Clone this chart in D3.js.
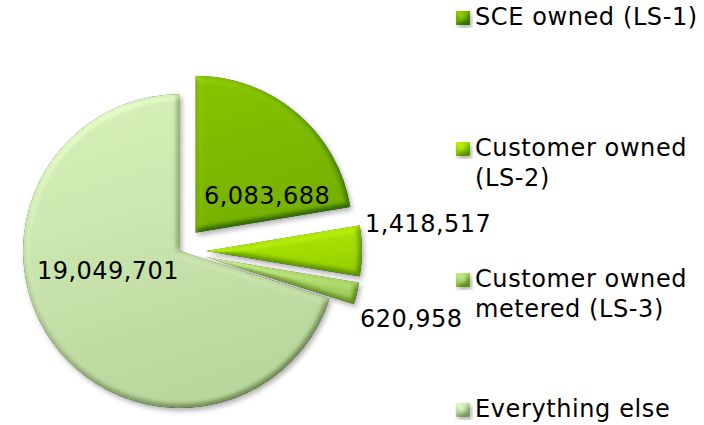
<!DOCTYPE html>
<html>
<head>
<meta charset="utf-8">
<script src="https://cdn.jsdelivr.net/npm/d3@7"></script>
<style>
  body { margin: 0; background: #fff; }
  text { font-family: "DejaVu Sans", Verdana, sans-serif; fill: #000; }
</style>
</head>
<body>
<div id="chart"></div>
<script>
// data
var categories = ["SCE owned (LS-1)", "Customer owned (LS-2)", "Customer owned metered (LS-3)", "Everything else"];
var values = [6083688, 1418517, 620958, 19049701];
var legendLines = [["SCE owned (LS-1)"], ["Customer owned", "(LS-2)"], ["Customer owned", "metered (LS-3)"], ["Everything else"]];

// styles / layout
var colorsTop = ["#86c400", "#b2ea00", "#bde37f", "#d9f2bb"];
var colorsBot = ["#76b000", "#98d200", "#a2cf5e", "#bad79e"];
var explode = [24, 25, 25, 0];
var labelPos = [[204, 204], [365, 232], [360, 327], [37, 279]];
var legendY = [25, 156, 287, 417];

var width = 704, height = 425;
var cx = 180, cy = 251, radius = 157;

var svg = d3.select("#chart")
  .append("svg")
    .attr("width", width)
    .attr("height", height);

var defs = svg.append("defs");

// gradients for each slice
categories.forEach(function(c, i) {
  var g = defs.append("linearGradient")
    .attr("id", "grad" + i)
    .attr("x1", 0).attr("y1", 0).attr("x2", 0.3).attr("y2", 1);
  g.append("stop").attr("offset", "0%").attr("stop-color", colorsTop[i]);
  g.append("stop").attr("offset", "100%").attr("stop-color", colorsBot[i]);
});

// soft bevel + drop shadow
var f = defs.append("filter")
  .attr("id", "bevel")
  .attr("x", "-15%").attr("y", "-15%")
  .attr("width", "130%").attr("height", "130%")
  .attr("color-interpolation-filters", "sRGB");
f.append("feGaussianBlur").attr("in", "SourceAlpha").attr("stdDeviation", 3).attr("result", "blur");
var light = f.append("feDiffuseLighting")
  .attr("in", "blur").attr("surfaceScale", 5)
  .attr("diffuseConstant", 0.577).attr("lighting-color", "#fff")
  .attr("result", "diff");
light.append("feDistantLight").attr("azimuth", 235).attr("elevation", 60);
f.append("feComposite")
  .attr("in", "SourceGraphic").attr("in2", "diff")
  .attr("operator", "arithmetic")
  .attr("k1", 0).attr("k2", 1).attr("k3", 0.7).attr("k4", -0.35)
  .attr("result", "lit");
f.append("feComposite").attr("in", "lit").attr("in2", "SourceAlpha").attr("operator", "in").attr("result", "litIn");
f.append("feGaussianBlur").attr("in", "SourceAlpha").attr("stdDeviation", 2.5).attr("result", "sblur");
f.append("feOffset").attr("in", "sblur").attr("dx", 2).attr("dy", 3).attr("result", "soff");
f.append("feFlood").attr("flood-color", "#000").attr("flood-opacity", 0.3).attr("result", "sc");
f.append("feComposite").attr("in", "sc").attr("in2", "soff").attr("operator", "in").attr("result", "shadow");
var m = f.append("feMerge");
m.append("feMergeNode").attr("in", "shadow");
m.append("feMergeNode").attr("in", "litIn");

var data = values.map(function(v, i) { return {name: categories[i], value: v, i: i}; });

var pie = d3.pie()
  .sort(null)
  .value(function(d) { return d.value; });

var arc = d3.arc()
  .innerRadius(0)
  .outerRadius(radius);

var arcs = pie(data);

var g = svg.append("g")
  .attr("transform", "translate(" + cx + "," + cy + ")");

g.selectAll("path.slice")
  .data(arcs)
  .enter()
  .append("path")
    .attr("class", "slice")
    .attr("d", arc)
    .attr("fill", function(d) { return "url(#grad" + d.data.i + ")"; })
    .attr("filter", "url(#bevel)")
    .attr("transform", function(d) {
      var a = (d.startAngle + d.endAngle) / 2;
      var e = explode[d.data.i];
      return "translate(" + (Math.sin(a) * e) + "," + (-Math.cos(a) * e) + ")";
    });

// data labels
var fmt = d3.format(",");
svg.selectAll("text.lbl")
  .data(arcs)
  .enter()
  .append("text")
    .attr("class", "lbl")
    .attr("x", function(d) { return labelPos[d.data.i][0]; })
    .attr("y", function(d) { return labelPos[d.data.i][1]; })
    .style("font-size", "24px")
    .style("letter-spacing", "0.45px")
    .text(function(d) { return fmt(d.data.value); });

// legend
var leg = svg.selectAll("g.leg")
  .data(data)
  .enter()
  .append("g")
    .attr("class", "leg")
    .attr("transform", function(d) { return "translate(456," + legendY[d.i] + ")"; });

leg.append("rect")
  .attr("x", 0).attr("y", -14)
  .attr("width", 14).attr("height", 14)
  .attr("fill", function(d) { return "url(#grad" + d.i + ")"; })
  .attr("filter", "url(#bevel)");

leg.append("text")
  .style("font-size", "24px")
  .style("letter-spacing", "0.6px")
  .selectAll("tspan")
  .data(function(d) { return legendLines[d.i]; })
  .enter()
  .append("tspan")
    .attr("x", 19)
    .attr("dy", function(d, j) { return j === 0 ? 0 : 30; })
    .text(function(d) { return d; });
</script>
</body>
</html>
